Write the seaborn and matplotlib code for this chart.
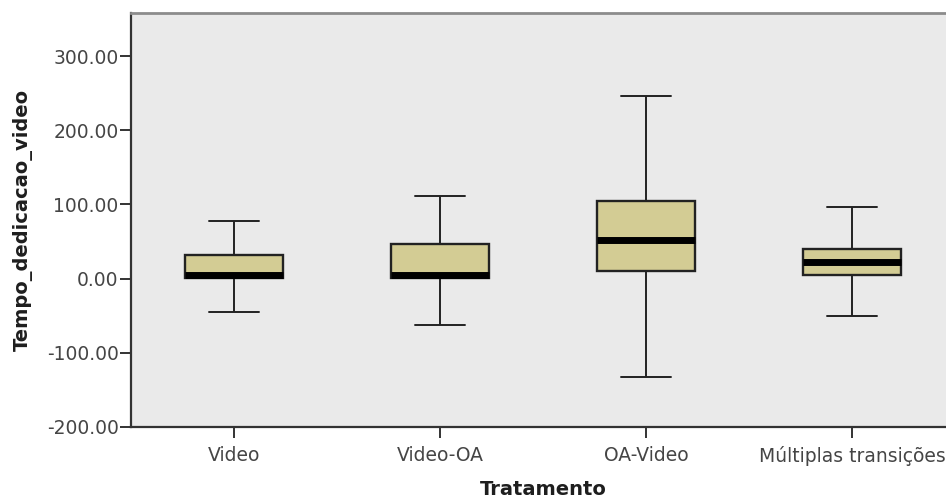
import numpy as np
import pandas as pd
import seaborn as sns
import matplotlib
matplotlib.use("Agg")
import matplotlib.pyplot as plt

# Five-number summaries per treatment group: min, Q1, median, Q3, max
categories = ["Video", "Video-OA", "OA-Video", "Múltiplas transições"]
mins    = [-45.0, -63.0, -133.0, -50.0]
q1s     = [1.5, 1.5, 10.0, 4.5]
medians = [4.5, 4.5, 51.5, 22.5]
q3s     = [32.0, 46.0, 105.0, 40.0]
maxs    = [77.0, 111.0, 246.0, 96.5]
yticks  = [-200, -100, 0, 100, 200, 300]

rows = []
for cat, a, b, c, d, e in zip(categories, mins, q1s, medians, q3s, maxs):
    for v in (a, b, c, d, e):
        rows.append({"Tratamento": cat, "Tempo_dedicacao_video": v})
df = pd.DataFrame(rows)

sns.set_theme(style="white")
plt.rcParams["font.family"] = ["DejaVu Sans"]

fig = plt.figure(figsize=(9.46, 5.0), dpi=100)
ax = fig.add_axes([131 / 946, 1 - 427 / 500, (955 - 131) / 946, (427 - 13) / 500])
ax.set_facecolor("#EAEAEA")

sns.boxplot(
    data=df, x="Tratamento", y="Tempo_dedicacao_video", order=categories,
    whis=(0, 100), width=0.48, color="#D3CC94", saturation=1, ax=ax,
    boxprops=dict(edgecolor="#222222", linewidth=1.7),
    whiskerprops=dict(color="#222222", linewidth=1.4),
    capprops=dict(color="#222222", linewidth=1.4),
    medianprops=dict(color="black", linewidth=5),
    showfliers=False,
)

ax.set_xlim(-0.5, 3.5)
ax.set_ylim(-200, 358)
ax.set_yticks(yticks)
ax.set_yticklabels([f"{v:.2f}" for v in yticks])

for side in ("left", "bottom"):
    ax.spines[side].set_color("#333333")
    ax.spines[side].set_linewidth(1.6)
ax.spines["top"].set_color("#8C8C8C")
ax.spines["top"].set_linewidth(2.0)
ax.spines["right"].set_visible(False)

ax.tick_params(axis="both", which="major", direction="out", length=8, width=1.4,
               color="#333333", labelsize=13.5, labelcolor="#454545",
               left=True, bottom=True, pad=1)
ax.tick_params(axis="x", pad=6)

ax.set_xlabel("Tratamento", fontsize=14, fontweight="bold", color="#1E1E1E", labelpad=10)
ax.set_ylabel("Tempo_dedicacao_video", fontsize=14, fontweight="bold", color="#1E1E1E", labelpad=10)

fig.savefig("out.png", dpi=100)
